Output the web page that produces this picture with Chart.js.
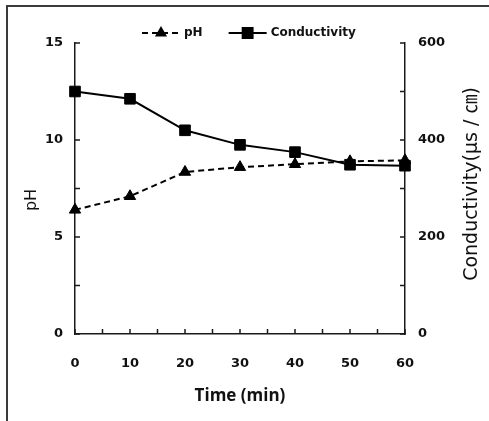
<!DOCTYPE html>
<html>
<head>
<meta charset="utf-8">
<script src="https://cdn.jsdelivr.net/npm/chart.js@4/dist/chart.umd.min.js"></script>
<style>
  html, body { margin: 0; padding: 0; background: #fff; }
  #wrap { position: relative; width: 489px; height: 421px; overflow: hidden; }
  #frame { position: absolute; left: 6px; top: 5px; width: 700px; height: 700px;
           border-left: 2px solid #3a3a3a; border-top: 2px solid #3a3a3a; }
  canvas { position: absolute; left: 0; top: 0; }
</style>
</head>
<body>
<div id="wrap">
  <div id="frame"></div>
  <canvas id="chart" width="489" height="421"></canvas>
</div>
<script>
// data
const times = [0, 10, 20, 30, 40, 50, 60];
const ph = [6.4, 7.1, 8.35, 8.6, 8.75, 8.9, 8.95];
const conductivity = [500, 485, 420, 390, 375, 349, 347];

// labelled ticks (minor ticks are drawn unlabelled)
const timeLabels = [0, 10, 20, 30, 40, 50, 60];
const phLabels = [0, 5, 10, 15];
const condLabels = [0, 200, 400, 600];

const tickFont = { family: '"DejaVu Sans", sans-serif', size: 13, weight: 'bold' };
const axisColor = '#1a1a1a';

// short tick marks pointing into the plot
const innerTicks = {
  id: 'innerTicks',
  beforeDatasetsDraw(chart) {
    const { ctx, chartArea: a, scales } = chart;
    ctx.save();
    ctx.strokeStyle = axisColor;
    ctx.lineWidth = 1.5;
    ctx.beginPath();
    scales.x.ticks.forEach(t => {
      const px = scales.x.getPixelForValue(t.value);
      ctx.moveTo(px, a.bottom); ctx.lineTo(px, a.bottom - 5);
    });
    scales.y.ticks.forEach(t => {
      const py = scales.y.getPixelForValue(t.value);
      ctx.moveTo(a.left, py); ctx.lineTo(a.left + 5, py);
    });
    scales.y1.ticks.forEach(t => {
      const py = scales.y1.getPixelForValue(t.value);
      ctx.moveTo(a.right, py); ctx.lineTo(a.right - 5, py);
    });
    ctx.stroke();
    ctx.restore();
  }
};

// vertical titles, both reading bottom to top
const sideTitles = {
  id: 'sideTitles',
  afterDraw(chart) {
    const ctx = chart.ctx;
    const draw = (txt, x, y, font) => {
      ctx.save();
      ctx.translate(x, y);
      ctx.rotate(-Math.PI / 2);
      ctx.font = font;
      ctx.fillStyle = '#111';
      ctx.textAlign = 'center';
      ctx.textBaseline = 'middle';
      ctx.fillText(txt, 0, 0);
      ctx.restore();
    };
    draw('pH', 32, 200, '16px "DejaVu Sans"');
    draw('Conductivity(μs / ㎝)', 472, 184, '19px "DejaVu Sans", "Noto Sans CJK KR"');
  }
};

// legend: line sample with marker in the middle, then bold label
const lineLegend = {
  id: 'lineLegend',
  afterDraw(chart) {
    const ctx = chart.ctx;
    let x = 142;
    const y = 33;
    ctx.save();
    ctx.font = 'bold 12px "DejaVu Sans"';
    ctx.textBaseline = 'middle';
    chart.data.datasets.forEach(ds => {
      ctx.strokeStyle = ds.borderColor;
      ctx.fillStyle = ds.borderColor;
      ctx.lineWidth = 2;
      ctx.setLineDash(ds.borderDash || []);
      ctx.beginPath();
      ctx.moveTo(x, y); ctx.lineTo(x + 38, y);
      ctx.stroke();
      ctx.setLineDash([]);
      Chart.helpers.drawPoint(ctx, {
        pointStyle: ds.pointStyle,
        radius: ds.pointStyle === 'rect' ? 7 : 5,
        borderWidth: 1,
        rotation: 0
      }, x + 19, y);
      ctx.fillStyle = '#111';
      ctx.fillText(ds.label, x + 42, y);
      x += 42 + ctx.measureText(ds.label).width + 26;
    });
    ctx.restore();
  }
};

new Chart(document.getElementById('chart'), {
  type: 'line',
  data: {
    datasets: [
      {
        label: 'pH',
        data: times.map((t, i) => ({ x: t, y: ph[i] })),
        yAxisID: 'y',
        borderColor: '#000',
        backgroundColor: '#000',
        borderWidth: 2,
        borderDash: [6, 4],
        pointStyle: 'triangle',
        pointRadius: 6.5,
        pointBorderWidth: 1,
        tension: 0,
        clip: false
      },
      {
        label: 'Conductivity',
        data: times.map((t, i) => ({ x: t, y: conductivity[i] })),
        yAxisID: 'y1',
        borderColor: '#000',
        backgroundColor: '#000',
        borderWidth: 2,
        pointStyle: 'rect',
        pointRadius: 7.5,
        pointBorderWidth: 1,
        tension: 0,
        clip: false
      }
    ]
  },
  options: {
    responsive: false,
    animation: false,
    devicePixelRatio: 1,
    layout: { padding: { top: 43, left: 0, right: 0, bottom: 0 } },
    plugins: {
      legend: { display: false },
      tooltip: { enabled: false }
    },
    scales: {
      x: {
        type: 'linear',
        min: 0, max: 60,
        ticks: {
          stepSize: 5, autoSkip: false, maxRotation: 0,
          padding: 22, color: '#111', font: tickFont,
          callback: v => timeLabels.includes(v) ? String(v) : ''
        },
        grid: { drawOnChartArea: false, drawTicks: false },
        border: { color: axisColor, width: 1.5 },
        title: {
          display: true, text: 'Time (min)', color: '#111',
          font: { family: '"Open Sans"', size: 17, weight: 'bold' },
          padding: { top: 0, bottom: 15 }
        },
        afterFit: s => { s.height = 87; }
      },
      y: {
        position: 'left',
        min: 0, max: 15,
        ticks: {
          stepSize: 2.5, padding: 12, color: '#111', font: tickFont,
          callback: v => phLabels.includes(v) ? String(v) : ''
        },
        grid: { drawOnChartArea: false, drawTicks: false },
        border: { color: axisColor, width: 1.5 },
        afterFit: s => { s.width = 75; }
      },
      y1: {
        position: 'right',
        min: 0, max: 600,
        ticks: {
          stepSize: 100, padding: 13, color: '#111', font: tickFont,
          callback: v => condLabels.includes(v) ? String(v) : ''
        },
        grid: { drawOnChartArea: false, drawTicks: false },
        border: { color: axisColor, width: 1.5 },
        afterFit: s => { s.width = 84; }
      }
    }
  },
  plugins: [innerTicks, sideTitles, lineLegend]
});
</script>
</body>
</html>
